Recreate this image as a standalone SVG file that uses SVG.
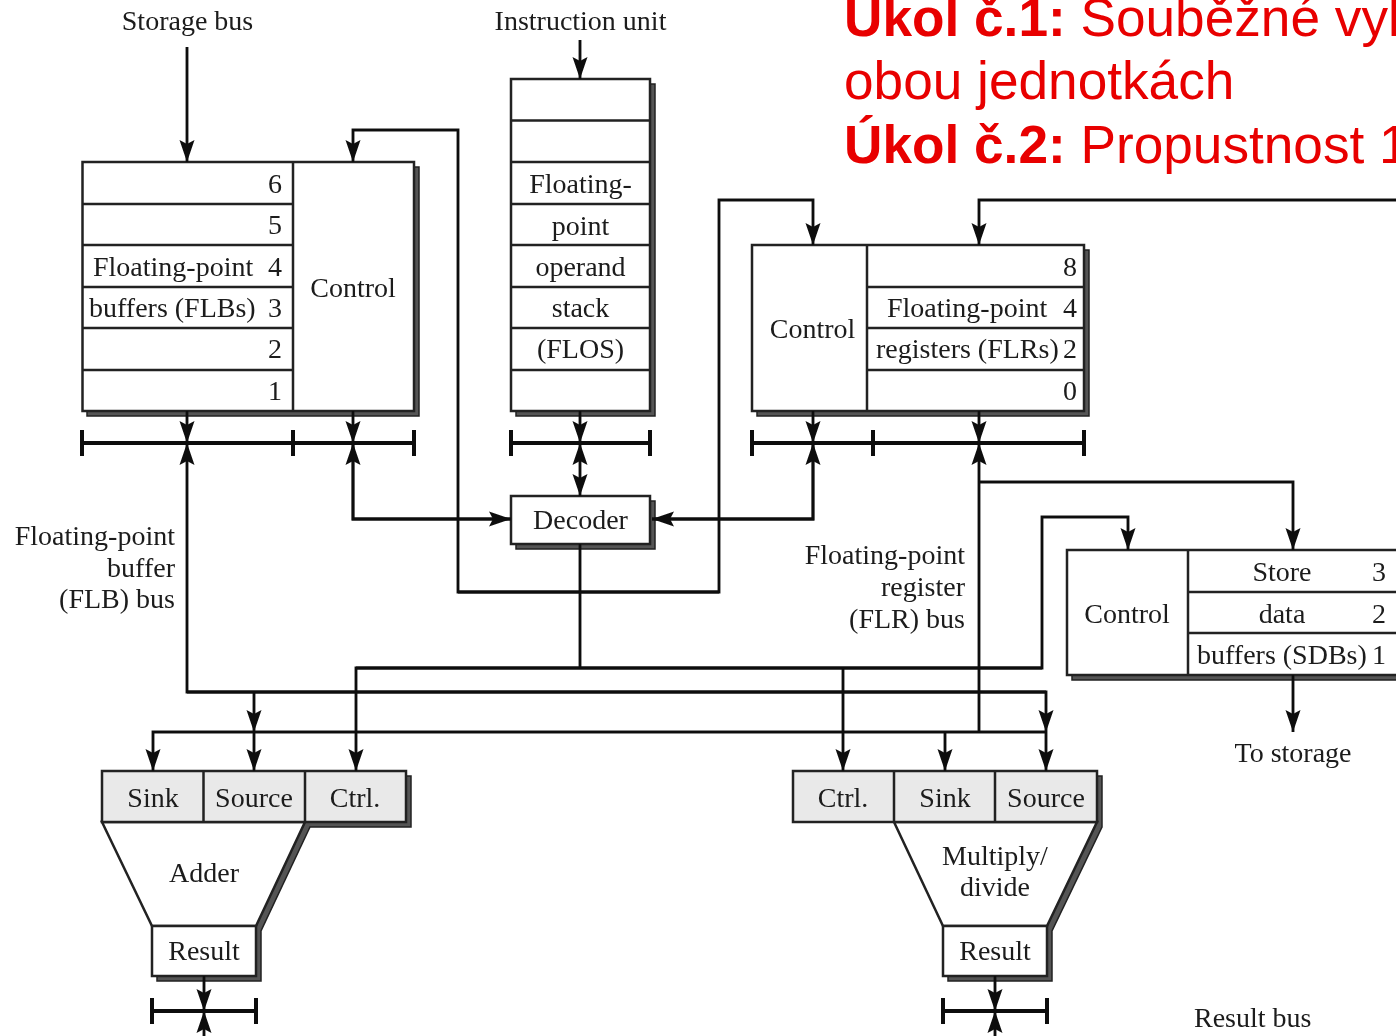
<svg xmlns="http://www.w3.org/2000/svg" width="1396" height="1036" viewBox="0 0 1396 1036">
<style>
text{font-family:"Liberation Serif","Times New Roman",serif;font-size:28px;fill:#1a1a1a}
.m{text-anchor:middle}.e{text-anchor:end}
.r{font-family:"Liberation Sans",Arial,sans-serif;font-size:53.200px;fill:#e80000}
.b{font-weight:bold}
.box{fill:#fff;stroke:#222;stroke-width:2.5}
.g{fill:#e9e9e9;stroke:#222;stroke-width:2.5}
.sh{fill:#555;stroke:#222;stroke-width:1.5}
.ln{fill:none;stroke:#222;stroke-width:2.5}
.c{fill:none;stroke:#111;stroke-width:2.8}
.a{marker-end:url(#ah)}
.bus{fill:none;stroke:#111;stroke-width:4}
</style>
<defs>
<marker id="ah" markerUnits="userSpaceOnUse" markerWidth="26" markerHeight="20" refX="23" refY="8" orient="auto" viewBox="0 0 26 20">
<path d="M23 8L1 0.500L5 8L1 15.500Z" fill="#111"/>
</marker>
<filter id="soft" x="0" y="0" width="100%" height="100%"><feGaussianBlur stdDeviation="0.45"/></filter>
</defs>
<rect width="1396" height="1036" fill="#fff"/>
<g filter="url(#soft)">
<g id="title">
<text class="r" x="844" y="36"><tspan class="b">Úkol č.1:</tspan> Souběžné vyl</text>
<text class="r" x="844" y="99">obou jednotkách</text>
<text class="r" x="844" y="163"><tspan class="b">Úkol č.2:</tspan> Propustnost 1</text>
</g>
<g id="labels">
<text class="m" x="187.500" y="30">Storage bus</text>
<text class="m" x="580.500" y="30">Instruction unit</text>
<text class="e" x="175" y="545">Floating-point</text>
<text class="e" x="175" y="577">buffer</text>
<text class="e" x="175" y="608">(FLB) bus</text>
<text class="e" x="965" y="564">Floating-point</text>
<text class="e" x="965" y="596">register</text>
<text class="e" x="965" y="628">(FLR) bus</text>
<text class="m" x="1293" y="762">To storage</text>
<text x="1194" y="1027">Result bus</text>
</g>

<g id="flb">
<rect class="sh" x="87" y="167" width="332" height="249"/>
<rect class="box" x="82.500" y="162" width="331.500" height="249"/>
<path class="ln" d="M293 162V411M82 204H293M82 245H293M82 287H293M82 328H293M82 370H293"/>
<text class="e" x="282" y="193">6</text><text class="e" x="282" y="234">5</text>
<text x="93" y="276">Floating-point</text><text class="e" x="282" y="276">4</text>
<text x="89" y="317">buffers (FLBs)</text><text class="e" x="282" y="317">3</text>
<text class="e" x="282" y="358">2</text><text class="e" x="282" y="400">1</text>
<text class="m" x="353" y="297">Control</text>
</g>

<g id="flos">
<rect class="sh" x="516" y="84" width="139" height="332"/>
<rect class="box" x="511" y="79" width="139" height="332"/>
<path class="ln" d="M511 120.500H650M511 162H650M511 204H650M511 245H650M511 287H650M511 328H650M511 370H650"/>
<text class="m" x="580.500" y="193">Floating-</text>
<text class="m" x="580.500" y="235">point</text>
<text class="m" x="580.500" y="276">operand</text>
<text class="m" x="580.500" y="317">stack</text>
<text class="m" x="580.500" y="358">(FLOS)</text>
</g>

<g id="flr">
<rect class="sh" x="757" y="250" width="332" height="166"/>
<rect class="box" x="752" y="245" width="332" height="166"/>
<path class="ln" d="M867 245V411M867 287H1084M867 328H1084M867 370H1084"/>
<text class="m" x="812.500" y="338">Control</text>
<text class="e" x="1077" y="276">8</text>
<text x="887" y="317">Floating-point</text><text class="e" x="1077" y="317">4</text>
<text x="876" y="358">registers (FLRs)</text><text class="e" x="1077" y="358">2</text>
<text class="e" x="1077" y="400">0</text>
</g>

<g id="decoder">
<rect class="sh" x="516" y="501" width="139" height="48"/>
<rect class="box" x="511" y="496" width="139" height="48"/>
<text class="m" x="580.500" y="529">Decoder</text>
</g>

<g id="sdb">
<rect class="sh" x="1072" y="555" width="340" height="125"/>
<rect class="box" x="1067" y="550" width="340" height="125"/>
<path class="ln" d="M1188 550V675M1188 592H1400M1188 633H1400"/>
<text class="m" x="1127" y="623">Control</text>
<text class="m" x="1282" y="581">Store</text><text class="e" x="1386" y="581">3</text>
<text class="m" x="1282" y="623">data</text><text class="e" x="1386" y="623">2</text>
<text x="1197" y="664">buffers (SDBs)</text><text class="e" x="1386" y="664">1</text>
</g>

<g id="adder">
<path class="sh" d="M107 776H411V827H310L261 931V981H157V931L107 827Z"/>
<path class="box" d="M102 822H305L256 926H152Z"/>
<rect class="g" x="102" y="771" width="304" height="51"/>
<path class="ln" d="M203.500 771V822M305 771V822"/>
<rect class="box" x="152" y="926" width="104" height="50"/>
<text class="m" x="153" y="806.500">Sink</text>
<text class="m" x="254" y="806.500">Source</text>
<text class="m" x="355" y="806.500">Ctrl.</text>
<text class="m" x="204" y="882">Adder</text>
<text class="m" x="204" y="960">Result</text>
</g>

<g id="multiply">
<path class="sh" d="M899 776H1102V827L1052 931V981H948V931L899 827Z"/>
<path class="box" d="M894 822H1097L1047 926H943Z"/>
<rect class="g" x="793" y="771" width="304" height="51"/>
<path class="ln" d="M894 771V822M995 771V822"/>
<rect class="box" x="943" y="926" width="104" height="50"/>
<text class="m" x="843" y="806.500">Ctrl.</text>
<text class="m" x="945" y="806.500">Sink</text>
<text class="m" x="1046" y="806.500">Source</text>
<text class="m" x="995" y="864.500">Multiply/</text>
<text class="m" x="995" y="896">divide</text>
<text class="m" x="995" y="960">Result</text>
</g>

<g id="connectors">
<path class="bus" d="M82 443H414M82 430V456M293 430V456M414 430V456"/>
<path class="bus" d="M511 443H650M511 430V456M650 430V456"/>
<path class="bus" d="M752 443H1084M752 430V456M873 430V456M1084 430V456"/>
<path class="bus" d="M152 1011H256M152 998V1024M256 998V1024"/>
<path class="bus" d="M943 1011H1047M943 998V1024M1047 998V1024"/>

<path class="c a" d="M187 47V162"/>
<path class="c a" d="M580 40V79"/>
<path class="c a" d="M719 592H458V130H353V162"/>
<path class="c a" d="M458 592H719V200H813V245"/>
<path class="c a" d="M1396 200H979V245"/>

<path class="c a" d="M187 411V443"/>
<path class="c a" d="M353 411V443"/>
<path class="c a" d="M580 411V443"/>
<path class="c a" d="M813 411V443"/>
<path class="c a" d="M979 411V443"/>

<path class="c a" d="M1046 692H187V443"/>
<path class="c a" d="M511 519H353V443"/>
<path class="c a" d="M353 443V519H511"/>
<path class="c a" d="M652 519H813V443"/>
<path class="c a" d="M813 443V519H652"/>
<path class="c a" d="M580 470V443"/>
<path class="c a" d="M580 470V496"/>

<path class="c a" d="M187 692H1046V732"/>
<path class="c a" d="M254 692V732"/>
<path class="c a" d="M1046 732H153V771"/>
<path class="c a" d="M254 732V771"/>
<path class="c a" d="M945 732V771"/>
<path class="c a" d="M1046 732V771"/>
<path class="c a" d="M979 732V443"/>
<path class="c a" d="M979 482H1293V550"/>

<path class="c" d="M580 544V668"/>
<path class="c a" d="M356 668H1042V517H1128V550"/>
<path class="c a" d="M1042 668H356V771"/>
<path class="c a" d="M843 668V771"/>
<path class="c a" d="M1293 675V732"/>

<path class="c a" d="M204 976V1011"/>
<path class="c a" d="M204 1040V1011"/>
<path class="c a" d="M995 976V1011"/>
<path class="c a" d="M995 1040V1011"/>
</g>
</g>
</svg>
